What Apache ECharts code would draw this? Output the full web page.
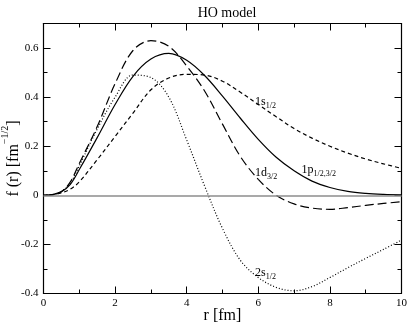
<!DOCTYPE html>
<html><head><meta charset="utf-8">
<script src="https://cdn.jsdelivr.net/npm/echarts@6/dist/echarts.min.js"></script>
<style>html,body{margin:0;padding:0;background:#fff}#c{width:409px;height:322px}</style>
</head><body><div id="c"></div>
<script>
// radius grid [fm]
const r = [0, 0.25, 0.5, 0.75, 1.0, 1.5, 2.0, 2.5, 3.0, 3.5, 4.0, 4.5, 5.0, 5.5, 6.0, 6.5, 7.0, 7.5, 8.0, 8.5, 9.0, 9.5, 10];
// wave functions f(r) [fm^-1/2]
const f1s = [0, 0.002, 0.01, 0.025, 0.055, 0.145, 0.24, 0.335, 0.43, 0.478, 0.493, 0.49, 0.465, 0.42, 0.37, 0.32, 0.272, 0.233, 0.20, 0.172, 0.148, 0.128, 0.11];
const f1p = [0, 0.003, 0.015, 0.045, 0.105, 0.235, 0.37, 0.485, 0.555, 0.578, 0.55, 0.488, 0.404, 0.314, 0.228, 0.155, 0.100, 0.058, 0.032, 0.016, 0.008, 0.004, 0.002];
const f1d = [0, 0.003, 0.015, 0.055, 0.13, 0.28, 0.455, 0.59, 0.63, 0.607, 0.527, 0.425, 0.29, 0.158, 0.065, 0.0, -0.035, -0.052, -0.057, -0.05, -0.041, -0.033, -0.026];
const f2s = [0, 0.003, 0.015, 0.05, 0.12, 0.27, 0.40, 0.49, 0.48, 0.40, 0.225, 0.038, -0.135, -0.265, -0.335, -0.375, -0.389, -0.372, -0.335, -0.295, -0.257, -0.22, -0.182];
// curve labels: [main, subscript, r, f]
const curveLabels = {
  s1: ['1s', '1/2', 5.91, 0.377],
  p1: ['1p', '1/2,3/2', 7.21, 0.099],
  d1: ['1d', '3/2', 5.91, 0.087],
  s2: ['2s', '1/2', 5.91, -0.321]
};
const xMin = 0, xMax = 10, xStep = 2;
const yMin = -0.4, yMax = 0.7, yStep = 0.2;

const FONT = "'Liberation Serif', 'Times New Roman', Times, serif";
const pairs = a => r.map((x, i) => [x, a[i]]);
const rich = {
  m: {fontFamily: FONT, fontSize: 12, color: '#000', verticalAlign: 'top'},
  s: {fontFamily: FONT, fontSize: 8, color: '#000', verticalAlign: 'top', padding: [6, 0, 0, 0]}
};
function mk(lbl) {
  return {
    symbol: 'circle', symbolSize: 0, silent: true,
    data: [{coord: [lbl[2], lbl[3]], label: {show: true, position: 'right', distance: 0,
      formatter: '{m|' + lbl[0] + '}{s|' + lbl[1] + '}', rich: rich}}]
  };
}
function line(name, data, type, lbl) {
  return {
    name: name, type: 'line', data: pairs(data), showSymbol: false, symbol: 'none',
    smooth: 0.35, xAxisIndex: 0, yAxisIndex: 0,
    lineStyle: {color: '#000', width: 1.2, type: type},
    markPoint: mk(lbl), z: 3
  };
}
const axisCommon = {
  type: 'value', splitLine: {show: false}, minorSplitLine: {show: false},
  axisLine: {show: true, onZero: false, lineStyle: {color: '#000', width: 1.2}},
  axisTick: {show: true, inside: true, length: 7, lineStyle: {color: '#000', width: 1}},
  minorTick: {show: true, splitNumber: 2, length: 4, lineStyle: {color: '#000', width: 1}}
};
const chart = echarts.init(document.getElementById('c'), null, {renderer: 'canvas'});
chart.setOption({
  animation: false,
  backgroundColor: '#fff',
  title: {text: 'HO model', left: 222, top: 1, textAlign: 'center',
    textStyle: {fontFamily: FONT, fontSize: 14, fontWeight: 'normal', color: '#000'}},
  grid: {left: 43.5, right: 7.5, top: 23.5, bottom: 28.5, containLabel: false, outerBoundsMode: 'none'},
  xAxis: [
    Object.assign({}, axisCommon, {min: xMin, max: xMax, interval: xStep, position: 'bottom',
      name: 'r [fm]', nameLocation: 'middle', nameGap: 14, nameMoveOverlap: false,
      nameTextStyle: {fontFamily: FONT, fontSize: 16, color: '#000'},
      axisLabel: {fontFamily: FONT, fontSize: 11, color: '#000', margin: 4}}),
    Object.assign({}, axisCommon, {min: xMin, max: xMax, interval: xStep, position: 'top',
      axisLabel: {show: false}})
  ],
  yAxis: [
    Object.assign({}, axisCommon, {min: yMin, max: yMax, interval: yStep, position: 'left',
      name: '{n|f (r) [fm}{p|\u2212' + '1/2}{n|]}', nameLocation: 'middle', nameGap: 22, nameMoveOverlap: false,
      nameTextStyle: {fontFamily: FONT, fontSize: 16, color: '#000', rich: {
        n: {fontFamily: FONT, fontSize: 16, color: '#000', verticalAlign: 'top', padding: [5, 0, 0, 0]},
        p: {fontFamily: FONT, fontSize: 10, color: '#000', verticalAlign: 'top'}}},
      axisLabel: {fontFamily: FONT, fontSize: 11, color: '#000', margin: 5, showMaxLabel: false,
        formatter: v => Math.abs(v - yMax) < 1e-9 ? '' : String(Math.round(v * 10) / 10)}}),
    Object.assign({}, axisCommon, {min: yMin, max: yMax, interval: yStep, position: 'right',
      axisLabel: {show: false}})
  ],
  series: [
    Object.assign(line('1s', f1s, [4, 3], curveLabels.s1), {
      markLine: {silent: true, symbol: 'none', label: {show: false},
        lineStyle: {color: '#8c8c8c', width: 1.6, type: 'solid'}, data: [{yAxis: 0}]}
    }),
    line('1p', f1p, 'solid', curveLabels.p1),
    line('1d', f1d, [9, 4], curveLabels.d1),
    line('2s', f2s, [1, 2], curveLabels.s2)
  ]
});
</script></body></html>
